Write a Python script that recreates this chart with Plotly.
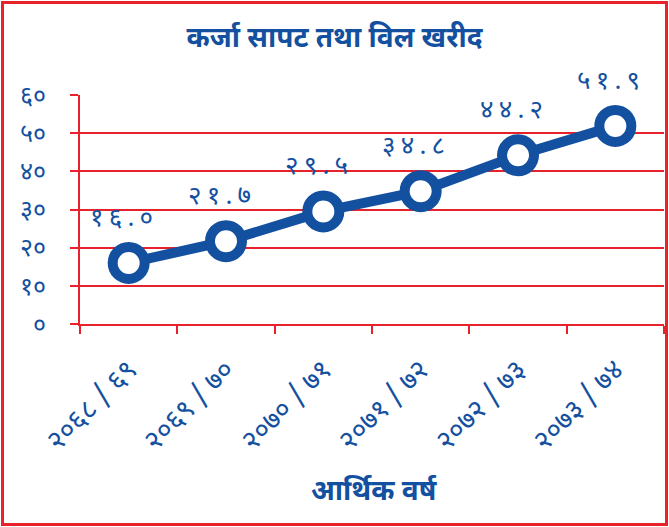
import plotly.graph_objects as go

categories = ["२०६८ / ६९", "२०६९ / ७०", "२०७० / ७१", "२०७१ / ७२", "२०७२ / ७३", "२०७३ / ७४"]
values = [16.0, 21.7, 29.5, 34.8, 44.2, 51.9]
value_labels = ["१६.०", "२१.७", "२९.५", "३४.८", "४४.२", "५१.९"]
y_tickvals = [0, 10, 20, 30, 40, 50, 60]
y_ticktext = ["०", "१०", "२०", "३०", "४०", "५०", "६०"]

BLUE = "#1450A0"
RED = "#E8222A"
FONT = "Noto Sans Devanagari, Noto Sans, sans-serif"
THIN = "\u2009"

fig = go.Figure()
fig.add_trace(go.Scatter(
    x=categories, y=values, mode="lines+markers",
    line=dict(color=BLUE, width=10),
    marker=dict(size=32, color="white", line=dict(color=BLUE, width=10)),
    hoverinfo="skip", showlegend=False, cliponaxis=False,
))

for c, v, t in zip(categories, values, value_labels):
    fig.add_annotation(x=c, y=v, xref="x", yref="y", text=THIN.join(t), showarrow=False,
                       xshift=-7, yshift=43, font=dict(family=FONT, size=26, color=BLUE))

L, R, T, B = 80, 5, 95, 203
W, H = 669, 527
pw, ph = W - L - R, H - T - B
def px2paper_x(px):
    return (px - L) / pw
def px2paper_y(py):
    return (H - B - py) / ph

fig.add_shape(type="rect", xref="paper", yref="paper",
              x0=px2paper_x(2.5), x1=px2paper_x(666.5), y0=px2paper_y(524.5), y1=px2paper_y(2.5),
              line=dict(color=RED, width=3), fillcolor="rgba(0,0,0,0)", layer="below")

fig.add_annotation(text="<b>आर्थिक वर्ष</b>", xref="paper", yref="paper",
                   x=px2paper_x(374), y=px2paper_y(492), xanchor="center", yanchor="middle",
                   showarrow=False, font=dict(family=FONT, size=28, color=BLUE))

fig.update_layout(
    width=W, height=H,
    margin=dict(l=L, r=R, t=T, b=B),
    paper_bgcolor="white", plot_bgcolor="white",
    title=dict(text="<b>कर्जा सापट तथा विल खरीद</b>", x=0.5, xref="container",
               y=1 - 37 / H, yref="container", yanchor="middle",
               font=dict(family=FONT, size=28, color=BLUE)),
    xaxis=dict(
        type="category", showgrid=False, showline=True, linecolor=RED, linewidth=2,
        ticks="outside", tickson="boundaries", tickcolor=RED, ticklen=8, tickwidth=2,
        tickangle=-45, ticklabelstandoff=16,
        tickfont=dict(family=FONT, size=28, color=BLUE),
        range=[-0.5, 5.5], zeroline=False, automargin=False,
    ),
    yaxis=dict(
        range=[0, 60], tickvals=y_tickvals, ticktext=y_ticktext,
        showgrid=True, gridcolor=RED, gridwidth=1.5,
        showline=True, linecolor=RED, linewidth=2,
        ticks="outside", tickcolor=RED, ticklen=8, tickwidth=2,
        tickfont=dict(family=FONT, size=25, color=BLUE), ticklabelstandoff=19,
        zeroline=False, automargin=False,
    ),
)

fig.write_html("out.html", config={"displayModeBar": False},
               post_script="document.body.style.margin='0';document.body.style.padding='0';")
